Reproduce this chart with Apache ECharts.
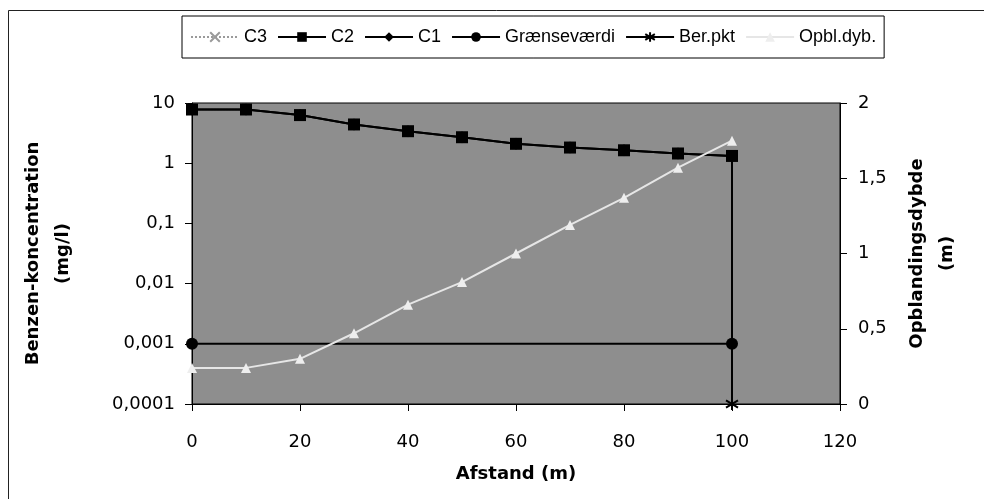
<!DOCTYPE html>
<html>
<head>
<meta charset="utf-8">
<script src="https://cdn.jsdelivr.net/npm/echarts@6/dist/echarts.min.js"></script>
<style>
  html, body { margin: 0; padding: 0; background: #fff; }
  #chart { width: 984px; height: 499px; }
</style>
</head>
<body>
<div id="chart"></div>
<script>
// distance along the flow (m)
const distance = [0, 10, 20, 30, 40, 50, 60, 70, 80, 90, 100]
// benzene concentration (mg/l) - C1 and C3 lie under the C2 squares
const c3 = [7.8, 7.8, 6.3, 4.4, 3.4, 2.7, 2.1, 1.82, 1.64, 1.45, 1.32]
const c2 = [7.8, 7.8, 6.3, 4.4, 3.4, 2.7, 2.1, 1.82, 1.64, 1.45, 1.32]
const c1 = [7.8, 7.8, 6.3, 4.4, 3.4, 2.7, 2.1, 1.82, 1.64, 1.45, 1.32]
// limit value line
const limitX = [0, 100]
const limitValue = [0.001, 0.001]
// calculation point
const berX = [100, 100]
const berValue = [1.32, 0.0001]
// mixing depth (m), right axis
const opblDepth = [0.24, 0.24, 0.30, 0.47, 0.66, 0.81, 1.00, 1.19, 1.37, 1.57, 1.75]

const fontTick = { fontFamily: 'DejaVu Sans', fontSize: 18, color: '#000' }
const fontName = { fontFamily: 'DejaVu Sans', fontSize: 18, fontWeight: 'bold', color: '#000', lineHeight: 30 }

const commaFmt = v => String(v).replace('.', ',')
const pairs = (xs, ys) => xs.map((x, i) => [x, ys[i]])

const crossPath = 'path://M0,0L10,10M10,0L0,10'
const starPath = 'path://M5,0L5,10M0,2L10,8M10,2L0,8'

const chart = echarts.init(document.getElementById('chart'))

chart.setOption({
  backgroundColor: '#fff',
  animation: false,
  graphic: [
    {
      type: 'rect',
      shape: { x: 8.5, y: 10.5, width: 1000, height: 600 },
      style: { fill: 'none', stroke: '#222', lineWidth: 1 },
      silent: true
    }
  ],
  legend: {
    left: 182,
    top: 16,
    padding: [12, 8],
    itemGap: 10,
    itemWidth: 48,
    itemHeight: 12,
    borderColor: '#000',
    borderWidth: 1,
    textStyle: { fontFamily: 'Liberation Sans', fontSize: 18, color: '#000' },
    data: ['C3', 'C2', 'C1', 'Grænseværdi', 'Ber.pkt', 'Opbl.dyb.']
  },
  grid: {
    left: 192,
    right: 144,
    top: 103,
    bottom: 95,
    show: true,
    backgroundColor: '#8e8e8e',
    borderColor: '#000',
    borderWidth: 1
  },
  xAxis: {
    type: 'value',
    min: 0,
    max: 120,
    interval: 20,
    name: 'Afstand (m)',
    nameLocation: 'middle',
    nameGap: 55,
    nameTextStyle: fontName,
    axisLine: { lineStyle: { color: '#000', width: 1 } },
    axisTick: { length: 7, lineStyle: { color: '#000' } },
    axisLabel: { ...fontTick, margin: 29 },
    splitLine: { show: false }
  },
  yAxis: [
    {
      type: 'log',
      logBase: 10,
      min: 0.0001,
      max: 10,
      name: 'Benzen-koncentration\n(mg/l)',
      nameLocation: 'middle',
      nameGap: 114,
      nameTextStyle: fontName,
      axisLine: { show: true, lineStyle: { color: '#000', width: 1 } },
      axisTick: { show: true, length: 7, lineStyle: { color: '#000' } },
      axisLabel: { ...fontTick, margin: 17, formatter: commaFmt },
      splitLine: { show: false }
    },
    {
      type: 'value',
      min: 0,
      max: 2,
      interval: 0.5,
      position: 'right',
      name: 'Opblandingsdybde\n(m)',
      nameLocation: 'middle',
      nameGap: 62,
      nameTextStyle: fontName,
      axisLine: { show: true, lineStyle: { color: '#000', width: 1 } },
      axisTick: { show: true, length: 7, lineStyle: { color: '#000' } },
      axisLabel: { ...fontTick, margin: 18, formatter: commaFmt },
      splitLine: { show: false }
    }
  ],
  series: [
    {
      name: 'C3',
      type: 'line',
      data: pairs(distance, c3),
      symbol: crossPath,
      symbolSize: 11,
      lineStyle: { color: '#9a9a9a', width: 1.5, type: 'dotted' },
      itemStyle: { color: '#9a9a9a', borderColor: '#9a9a9a', borderWidth: 1.5 }
    },
    {
      name: 'C1',
      type: 'line',
      data: pairs(distance, c1),
      symbol: 'diamond',
      symbolSize: 12,
      lineStyle: { color: '#000', width: 2 },
      itemStyle: { color: '#000' }
    },
    {
      name: 'C2',
      type: 'line',
      data: pairs(distance, c2),
      symbol: 'rect',
      symbolSize: 12,
      lineStyle: { color: '#000', width: 2 },
      itemStyle: { color: '#000' }
    },
    {
      name: 'Grænseværdi',
      type: 'line',
      data: pairs(limitX, limitValue),
      symbol: 'circle',
      symbolSize: 12,
      lineStyle: { color: '#000', width: 2 },
      itemStyle: { color: '#000' }
    },
    {
      name: 'Ber.pkt',
      type: 'line',
      data: pairs(berX, berValue).map((p, i) => (i === 0 ? { value: p, symbol: 'none' } : p)),
      symbol: starPath,
      symbolSize: 12,
      lineStyle: { color: '#000', width: 2 },
      itemStyle: { color: '#000', borderColor: '#000', borderWidth: 2 }
    },
    {
      name: 'Opbl.dyb.',
      type: 'line',
      yAxisIndex: 1,
      data: pairs(distance, opblDepth),
      symbol: 'triangle',
      symbolSize: 10,
      lineStyle: { color: '#e6e6e6', width: 2 },
      itemStyle: { color: '#eeeeee' }
    }
  ]
})
</script>
</body>
</html>
